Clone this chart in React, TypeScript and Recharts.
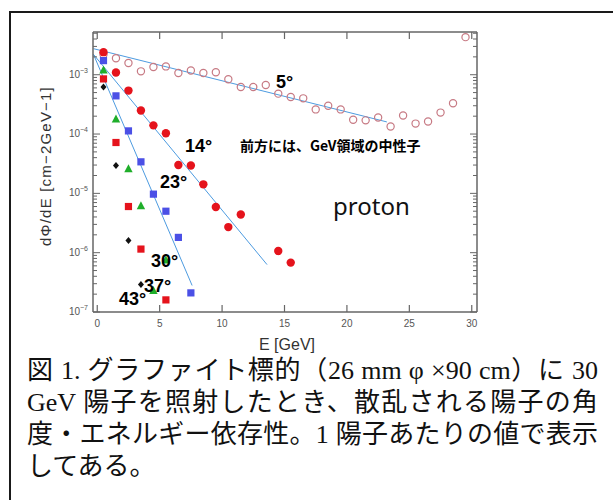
import { ScatterChart, Scatter, XAxis, YAxis, ReferenceLine } from 'recharts';

// energies in GeV, flux in cm-2 GeV-1 per proton
const E_5DEG = [0.5, 1.5, 2.5, 3.5, 4.5, 5.5, 6.5, 7.5, 8.5, 9.5, 10.5, 11.5, 12.5, 13.5, 14.5, 15.5, 16.5, 17.5, 18.5, 19.5, 20.5, 21.5, 22.5, 23.5, 24.5, 25.5, 26.5, 27.5, 28.5, 29.5];
const FLUX_5DEG = [2.2e-3, 1.9e-3, 1.58e-3, 1.14e-3, 1.35e-3, 1.38e-3, 1.07e-3, 1.18e-3, 1.07e-3, 1.1e-3, 8.4e-4, 6.2e-4, 6.2e-4, 6.7e-4, 4.8e-4, 4.2e-4, 4.0e-4, 2.6e-4, 3.0e-4, 2.6e-4, 1.74e-4, 1.7e-4, 1.9e-4, 1.34e-4, 2.05e-4, 1.5e-4, 1.63e-4, 2.3e-4, 3.3e-4, 4.3e-3];

const E_14DEG = [0.5, 1.5, 2.5, 3.5, 4.5, 5.5, 6.5, 7.5, 8.5, 9.5, 10.5, 11.5, 14.5, 15.5];
const FLUX_14DEG = [2.4e-3, 1.09e-3, 5.4e-4, 2.5e-4, 1.4e-4, 1.03e-4, 3.0e-5, 2.95e-5, 1.42e-5, 5.9e-6, 2.7e-6, 4.4e-6, 1.07e-6, 6.8e-7];

const E_23DEG = [0.5, 1.5, 2.5, 3.5, 4.5, 5.5, 6.5, 7.5];
const FLUX_23DEG = [1.73e-3, 4.4e-4, 1.13e-4, 3.4e-5, 9.7e-6, 5.0e-6, 1.81e-6, 2.1e-7];

const E_30DEG = [0.5, 1.5, 2.5, 3.5, 4.5, 5.5];
const FLUX_30DEG = [1.2e-3, 1.8e-4, 2.6e-5, 6.2e-6, 2.3e-7, 7.5e-7];

const E_37DEG = [0.5, 1.5, 2.5, 3.5];
const FLUX_37DEG = [6.2e-4, 2.95e-5, 1.6e-6, 2.9e-7];

const E_43DEG = [0.5, 1.5, 2.5, 3.5, 5.5];
const FLUX_43DEG = [8.5e-4, 7.2e-5, 6.0e-6, 1.15e-6, 1.6e-7];

// straight-line fits drawn on the log plot (start, end)
const FIT_5_E = [-0.3, 23.2];
const FIT_5_V = [2.75e-3, 1.6e-4];
const FIT_14_E = [-0.3, 13.6];
const FIT_14_V = [2.2e-3, 6.3e-7];
const FIT_23_E = [-0.3, 7.6];
const FIT_23_V = [2.2e-3, 2.8e-7];

const X_TICKS = [0, 5, 10, 15, 20, 25, 30];
const X_MIN = -0.34;
const X_MAX = 30.42;
const Y_DECADES = [-7, -6, -5, -4, -3];
const Y_MIN = 1e-7;
const Y_MAX = 5.25e-3;

const CAPTION = [
  '図 1. グラファイト標的（26 mm φ ×90 cm）に 30',
  'GeV 陽子を照射したとき、散乱される陽子の角',
  '度・エネルギー依存性。1 陽子あたりの値で表示',
  'してある。',
];

// chart layout
const CHART_W = 613;
const CHART_H = 360;
const MARGIN = { top: 32, right: 136, bottom: 18, left: 47 };
const Y_AXIS_W = 46;
const X_AXIS_H = 30;
const PLOT_LEFT = MARGIN.left + Y_AXIS_W;
const PLOT_TOP = MARGIN.top;
const PLOT_W = CHART_W - MARGIN.left - Y_AXIS_W - MARGIN.right;
const PLOT_H = CHART_H - MARGIN.top - MARGIN.bottom - X_AXIS_H;

const toPoints = (es: number[], vs: number[]) => es.map((e, i) => ({ e, v: vs[i] }));

// major + minor ticks for the log axis
const yTicks: number[] = [];
Y_DECADES.forEach(d => {
  for (let k = 1; k <= 9; k++) {
    const v = k * Math.pow(10, d);
    if (v <= Y_MAX) yTicks.push(v);
  }
});

const isMajor = (v: number) => {
  const l = Math.log10(v);
  return Math.abs(l - Math.round(l)) < 1e-6;
};

const AXIS = '#666';
const TICK_TXT = '#555';
const FIT = '#4d9be0';

// left ticks + the matching inward ticks on the right edge of the box
const LeftTick = (props: any) => {
  const { x, y, payload } = props;
  const major = isMajor(payload.value);
  const len = major ? 7 : 4;
  const exp = Math.round(Math.log10(payload.value));
  return (
    <g>
      <line x1={x} x2={x + len} y1={y} y2={y} stroke={AXIS} strokeWidth={1} />
      <line x1={x + PLOT_W} x2={x + PLOT_W - len} y1={y} y2={y} stroke={AXIS} strokeWidth={1} />
      {major && (
        <text x={x - 5} y={y + 3} textAnchor="end" fontSize={10} fill={TICK_TXT} fontFamily="Liberation Sans, Arial, sans-serif">
          10<tspan dy={-5} fontSize={7}>{`−${-exp}`}</tspan>
        </text>
      )}
    </g>
  );
};

// bottom ticks + the matching inward ticks on the top edge
const BottomTick = (props: any) => {
  const { x, y, payload } = props;
  return (
    <g>
      <line x1={x} x2={x} y1={y} y2={y - 7} stroke={AXIS} strokeWidth={1.2} />
      <line x1={x} x2={x} y1={y - PLOT_H} y2={y - PLOT_H + 7} stroke={AXIS} strokeWidth={1.2} />
      <text x={x} y={y + 15} textAnchor="middle" fontSize={10} fill={TICK_TXT} fontFamily="Liberation Sans, Arial, sans-serif">
        {payload.value}
      </text>
    </g>
  );
};

const OpenCircle = (p: any) => <circle cx={p.cx} cy={p.cy} r={3.6} fill="none" stroke="#c77a84" strokeWidth={1.2} />;
const RedCircle = (p: any) => <circle cx={p.cx} cy={p.cy} r={4.2} fill="#e5131c" />;
const BlueSquare = (p: any) => <rect x={p.cx - 3.6} y={p.cy - 3.6} width={7.2} height={7.2} fill="#4b50e6" />;
const RedSquare = (p: any) => <rect x={p.cx - 3.6} y={p.cy - 3.6} width={7.2} height={7.2} fill="#e5131c" />;
const GreenTriangle = (p: any) => (
  <polygon points={`${p.cx},${p.cy - 4.5} ${p.cx + 4.2},${p.cy + 3.5} ${p.cx - 4.2},${p.cy + 3.5}`} fill="#1fae2a" />
);
const BlackDiamond = (p: any) => (
  <polygon points={`${p.cx},${p.cy - 3.5} ${p.cx + 3},${p.cy} ${p.cx},${p.cy + 3.5} ${p.cx - 3},${p.cy}`} fill="#111" />
);

const LABEL_FONT = 'Liberation Sans, Arial, "Noto Sans CJK JP", sans-serif';

export default function App() {
  return (
    <div style={{ position: 'absolute', left: 0, top: 0, width: 613, height: 500, background: '#fff', overflow: 'hidden' }}>
      <div style={{ position: 'absolute', left: 9, top: 11, width: 700, height: 600, border: '2px solid #1a1a1a', boxSizing: 'border-box' }} />

      <div style={{ position: 'absolute', left: 0, top: 0 }}>
        <ScatterChart width={CHART_W} height={CHART_H} margin={MARGIN}>
          <XAxis
            dataKey="e"
            type="number"
            domain={[X_MIN, X_MAX]}
            ticks={X_TICKS}
            allowDataOverflow
            height={X_AXIS_H}
            tickSize={0}
            tickMargin={0}
            tickLine={false}
            axisLine={{ stroke: AXIS, strokeWidth: 1.5 }}
            tick={<BottomTick />}
            interval={0}
          />
          <YAxis
            dataKey="v"
            type="number"
            scale="log"
            domain={[Y_MIN, Y_MAX]}
            ticks={yTicks}
            allowDataOverflow
            width={Y_AXIS_W}
            tickSize={0}
            tickMargin={0}
            tickLine={false}
            axisLine={{ stroke: AXIS, strokeWidth: 1.5 }}
            tick={<LeftTick />}
            interval={0}
          />

          <ReferenceLine segment={[{ x: FIT_5_E[0], y: FIT_5_V[0] }, { x: FIT_5_E[1], y: FIT_5_V[1] }]} stroke={FIT} strokeWidth={1} ifOverflow="visible" />
          <ReferenceLine segment={[{ x: FIT_14_E[0], y: FIT_14_V[0] }, { x: FIT_14_E[1], y: FIT_14_V[1] }]} stroke={FIT} strokeWidth={1} ifOverflow="visible" />
          <ReferenceLine segment={[{ x: FIT_23_E[0], y: FIT_23_V[0] }, { x: FIT_23_E[1], y: FIT_23_V[1] }]} stroke={FIT} strokeWidth={1} ifOverflow="visible" />

          <Scatter data={toPoints(E_5DEG, FLUX_5DEG)} shape={OpenCircle} isAnimationActive={false} />
          <Scatter data={toPoints(E_43DEG, FLUX_43DEG)} shape={RedSquare} isAnimationActive={false} />
          <Scatter data={toPoints(E_37DEG, FLUX_37DEG)} shape={BlackDiamond} isAnimationActive={false} />
          <Scatter data={toPoints(E_30DEG, FLUX_30DEG)} shape={GreenTriangle} isAnimationActive={false} />
          <Scatter data={toPoints(E_23DEG, FLUX_23DEG)} shape={BlueSquare} isAnimationActive={false} />
          <Scatter data={toPoints(E_14DEG, FLUX_14DEG)} shape={RedCircle} isAnimationActive={false} />
        </ScatterChart>
      </div>

      {/* box edges, annotations and axis titles */}
      <svg width={CHART_W} height={CHART_H} style={{ position: 'absolute', left: 0, top: 0, pointerEvents: 'none' }}>
        <line x1={PLOT_LEFT} x2={PLOT_LEFT + PLOT_W} y1={PLOT_TOP} y2={PLOT_TOP} stroke={AXIS} strokeWidth={1.5} />
        <line x1={PLOT_LEFT + PLOT_W} x2={PLOT_LEFT + PLOT_W} y1={PLOT_TOP} y2={PLOT_TOP + PLOT_H} stroke={AXIS} strokeWidth={1.5} />
        <g fontFamily={LABEL_FONT} fontWeight="bold" fontSize={18} fill="#000">
          <text x={276} y={88}>5°</text>
          <text x={185} y={152}>14°</text>
          <text x={160} y={188}>23°</text>
          <text x={151} y={267}>30°</text>
          <text x={144} y={292}>37°</text>
          <text x={119} y={305}>43°</text>
        </g>
        <text x={240} y={151} fontFamily='"Noto Sans CJK JP", sans-serif' fontWeight="bold" fontSize={14} fill="#000">
          前方には、GeV領域の中性子
        </text>
        <text x={333} y={215} fontFamily='"Noto Sans", sans-serif' fontSize={24} fill="#111">
          proton
        </text>
        <text x={287} y={350} textAnchor="middle" fontFamily="Liberation Sans, Arial, sans-serif" fontSize={16} fill="#333">
          E [GeV]
        </text>
        <text
          transform="translate(51,166) rotate(-90)"
          textAnchor="middle"
          fontFamily="Liberation Sans, Arial, sans-serif"
          fontSize={15}
          letterSpacing={1.2}
          fill="#333"
        >
          dΦ/dE  [cm−2GeV−1]
        </text>
      </svg>

      <div
        style={{
          position: 'absolute',
          left: 27,
          top: 355,
          width: 571,
          fontFamily: '"Liberation Serif", "Noto Sans CJK JP", serif',
          fontSize: 26,
          lineHeight: '32px',
          color: '#111',
        }}
      >
        {CAPTION.map((line, i) => (
          <div key={i} style={{ textAlign: 'justify', textAlignLast: i < CAPTION.length - 1 ? 'justify' : 'left', whiteSpace: 'nowrap' }}>
            {line}
          </div>
        ))}
      </div>
    </div>
  );
}
